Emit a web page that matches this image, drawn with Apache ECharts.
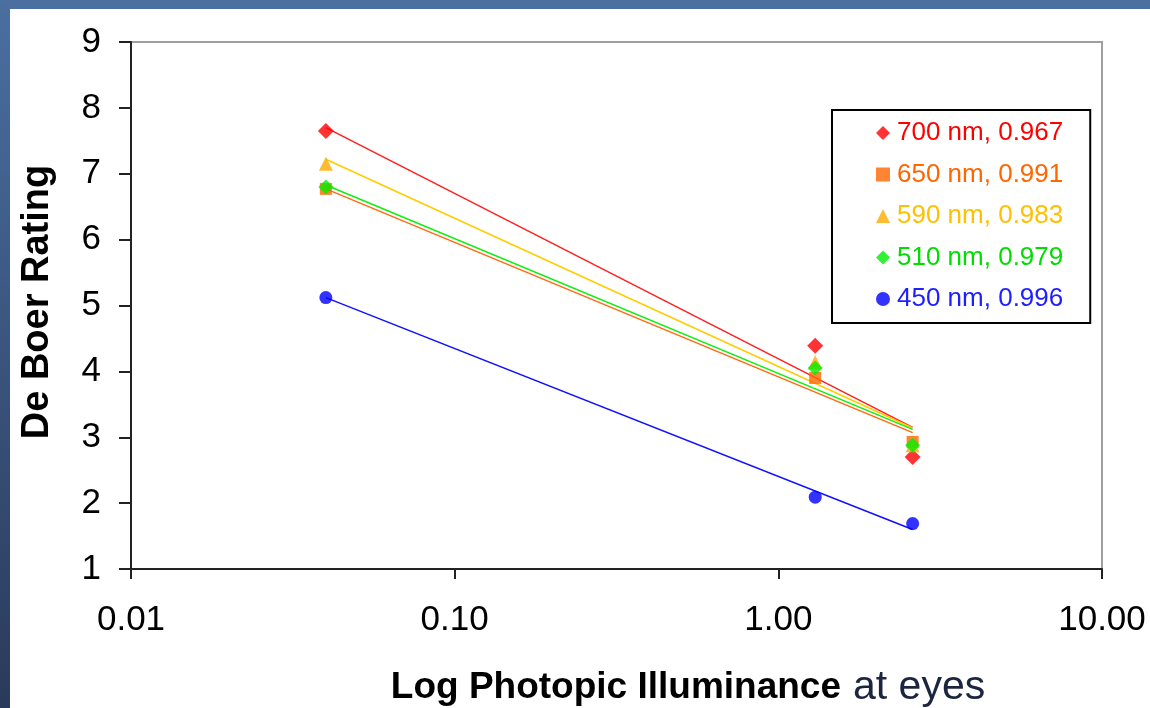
<!DOCTYPE html>
<html>
<head>
<meta charset="utf-8">
<script src="https://cdn.jsdelivr.net/npm/echarts@6/dist/echarts.min.js"></script>
<style>
html,body{margin:0;padding:0;background:#fff;}
#c{width:1150px;height:708px;}
</style>
</head>
<body>
<div id="c"></div>
<script>
// ---- data ----
var xVals = [0.04, 1.3, 2.6];
var names = ['700 nm, 0.967', '650 nm, 0.991', '590 nm, 0.983', '510 nm, 0.979', '450 nm, 0.996'];
var s700 = [7.65, 4.39, 2.70];
var s650 = [6.77, 3.90, 2.93];
var s590 = [7.15, 4.14, 2.88];
var s510 = [6.80, 4.05, 2.88];
var s450 = [5.12, 2.09, 1.69];
var trendX = [0.04, 2.6];
var t700 = [7.70, 3.15];
var t650 = [6.77, 3.07];
var t590 = [7.22, 3.14];
var t510 = [6.83, 3.12];
var t450 = [5.12, 1.60];
var yTicks = [1, 2, 3, 4, 5, 6, 7, 8, 9];
var xTicks = ['0.01', '0.10', '1.00', '10.00'];

var markerColors = ['#ff0000', '#ff6600', '#ffaa00', '#00ee00', '#0000ff'];
var lineColors = ['#ff2020', '#ff6a10', '#ffcc00', '#10ee10', '#1010ff'];
var textColors = ['#ff0000', '#ff6600', '#ffc000', '#00dd00', '#2020ff'];
var symbols = ['diamond', 'rect', 'triangle', 'diamond', 'circle'];
var symSizes = [16, 12, 14, 15, 13];
var pts = [s700, s650, s590, s510, s450];
var trends = [t700, t650, t590, t510, t450];

function zip(xs, ys) { return xs.map(function (x, i) { return [x, ys[i]]; }); }

var series = [];
for (var i = 0; i < 5; i++) {
  series.push({
    name: names[i] + ' trend', type: 'line', data: zip(trendX, trends[i]),
    showSymbol: false, symbol: 'none', silent: true, z: 2,
    lineStyle: { color: lineColors[i], width: 1.5 }
  });
}
for (var j = 0; j < 5; j++) {
  series.push({
    name: names[j], type: 'scatter', data: zip(xVals, pts[j]),
    symbol: symbols[j], symbolSize: symSizes[j], z: 3,
    itemStyle: { color: markerColors[j] }
  });
}

var chart = echarts.init(document.getElementById('c'));
chart.setOption({
  backgroundColor: '#ffffff',
  animation: false,
  grid: { left: 131, right: 48, top: 42, bottom: 139, show: true, borderColor: '#a0a0a0', borderWidth: 2, backgroundColor: 'transparent' },
  xAxis: {
    type: 'log', logBase: 10, min: 0.01, max: 10,
    axisLine: { show: true, lineStyle: { color: '#222', width: 2 } },
    axisTick: { show: true, inside: false, length: 10, lineStyle: { color: '#222', width: 2 } },
    minorTick: { show: false },
    splitLine: { show: false },
    axisLabel: {
      margin: 34, color: '#000', fontFamily: 'Liberation Sans', fontSize: 35,
      formatter: function (v) { var k = Math.round(Math.log10(v)) + 2; return xTicks[k]; }
    }
  },
  yAxis: {
    type: 'value', min: 1, max: 9, interval: 1,
    axisLine: { show: true, lineStyle: { color: '#222', width: 2 } },
    axisTick: { show: true, inside: false, length: 12, lineStyle: { color: '#222', width: 2 } },
    splitLine: { show: false },
    axisLabel: {
      margin: 30, color: '#000', fontFamily: 'Liberation Sans', fontSize: 35,
      formatter: function (v) { return yTicks.indexOf(v) >= 0 ? String(v) : ''; }
    }
  },
  legend: {
    orient: 'vertical', left: 832, top: 110,
    padding: [8, 27, 9, 44],
    itemGap: 11.5, itemWidth: 14, itemHeight: 14,
    borderColor: '#000', borderWidth: 2, backgroundColor: '#fff',
    textStyle: { fontFamily: 'Liberation Sans', fontSize: 26, lineHeight: 30, padding: [0, 0, 0, 2] },
    data: names.map(function (n, i) { return { name: n, icon: symbols[i], textStyle: { color: textColors[i] } }; })
  },
  graphic: [
    { type: 'rect', shape: { x: 0, y: 0, width: 1150, height: 9 }, style: { fill: '#4a6fa0' }, z: 100 },
    { type: 'rect', shape: { x: 0, y: 0, width: 10, height: 708 }, z: 100,
      style: { fill: new echarts.graphic.LinearGradient(0, 0, 0, 1, [{ offset: 0, color: '#4a6fa0' }, { offset: 1, color: '#2b3a5a' }]) } },
    { type: 'text', x: 38, y: 302, rotation: Math.PI / 2, z: 100,
      style: { text: 'De Boer Rating', fill: '#000', font: 'bold 38px "Liberation Sans"', align: 'center', verticalAlign: 'middle' } },
    { type: 'text', x: 688, y: 688, z: 100,
      style: {
        text: '{b|Log Photopic Illuminance}{n|at eyes}', align: 'center', verticalAlign: 'middle',
        rich: {
          b: { fontFamily: 'Liberation Sans', fontWeight: 'bold', fontSize: 37, fill: '#000', color: '#000' },
          n: { fontFamily: 'Liberation Sans', fontSize: 41, fill: '#1c2540', color: '#1c2540', padding: [0, 0, 0, 12] }
        }
      } }
  ],
  series: series
});
</script>
</body>
</html>
